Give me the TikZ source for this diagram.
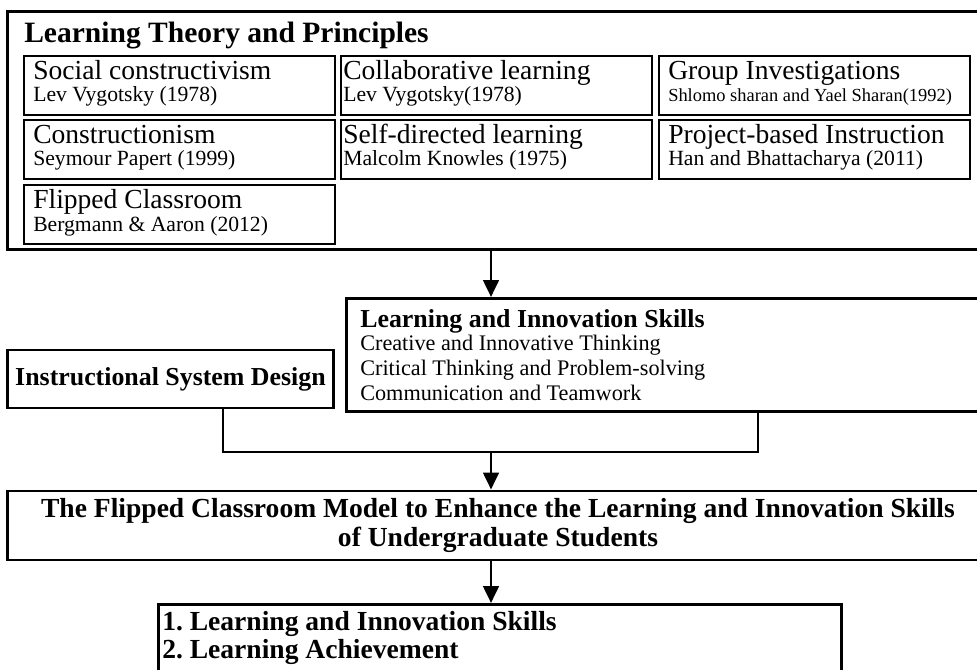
\documentclass[tikz,border=0pt]{standalone}
\usepackage{fontspec}
\setmainfont{Liberation Serif}
\usetikzlibrary{arrows.meta}

\tikzset{
  bigbox/.style={draw, line width=2.1pt, inner sep=0pt},
  thinbox/.style={draw, line width=1.1pt, inner sep=0pt, anchor=north west,
    minimum width=7.775cm, minimum height=1.475cm},
  txt/.style={inner sep=0pt, anchor=base west},
  arrow/.style={line width=2.1pt, -{Triangle[length=12pt,width=11pt]}},
  link/.style={line width=2.1pt}
}

\begin{document}
\frenchspacing
\begin{tikzpicture}[x=0.025cm, y=-0.025cm]
\useasboundingbox (0,0) rectangle (977,669);

% theory block
\node[bigbox, minimum width=24.55cm, minimum height=5.925cm] (theory) at (499,130.5) {};
\node[txt, font=\fontsize{21}{25}\selectfont\bfseries] (theory-title) at (24,43) {Learning Theory and Principles};

\foreach \n/\x/\y/\tx/\main/\sub in {
  social/23/55/33/Social constructivism/Lev Vygotsky (1978),
  collab/340/55/343/Collaborative learning/Lev Vygotsky(1978),
  group/658/55/668/Group Investigations/{\fontsize{13.1}{15}\selectfont Shlomo sharan and Yael Sharan(1992)},
  constr/23/119/33/Constructionism/Seymour Papert (1999),
  selfdir/340/119/343/Self-directed learning/Malcolm Knowles (1975),
  project/658/119/668/Project-based Instruction/Han and Bhattacharya (2011),
  flipped/23/184/33/Flipped Classroom/Bergmann \& Aaron (2012)}
{
  \node[thinbox] (\n) at (\x,\y) {};
  \node[txt, font=\fontsize{19.6}{22}\selectfont] (\n-main) at (\tx,\y+25) {\main};
  \node[txt, font=\fontsize{15.4}{18}\selectfont] (\n-sub) at (\tx,\y+47) {\sub};
}

% design and skills
\node[bigbox, minimum width=8.125cm, minimum height=1.45cm,
  font=\fontsize{18.4}{22}\selectfont\bfseries] (isd) at (170.5,379) {Instructional System Design};
\node[bigbox, anchor=north west, minimum width=16.125cm, minimum height=2.825cm] (lis) at (345,297) {};
\node[txt, font=\fontsize{18.4}{22}\selectfont\bfseries] (lis-title) at (360,327) {Learning and Innovation Skills};
\foreach \t [count=\k] in {Creative and Innovative Thinking, Critical Thinking and Problem-solving, Communication and Teamwork}
  \node[txt, font=\fontsize{15.8}{19}\selectfont] (lis-\k) at (360,325+25*\k) {\t};

% model
\node[bigbox, minimum width=24.5cm, minimum height=1.725cm, align=center,
  font=\fontsize{19.6}{20.6}\selectfont\bfseries] (model) at (498,525.5)
  {The Flipped Classroom Model to Enhance the Learning and Innovation Skills\\of Undergraduate Students};

% outcomes
\node[bigbox, anchor=north west, minimum width=17.075cm, minimum height=2.425cm] (outcome) at (157,603) {};
\node[txt, font=\fontsize{19.6}{22}\selectfont\bfseries] (outcome-1) at (162,630) {1. Learning and Innovation Skills};
\node[txt, font=\fontsize{19.6}{22}\selectfont\bfseries] (outcome-2) at (162,658) {2. Learning Achievement};

% connectors
\coordinate (split) at (491,452);
\coordinate (isd-out) at (223,452);
\coordinate (lis-out) at (758,452);
\draw[link] (isd.south -| isd-out) -- (isd-out) -- (lis-out) -- (lis.south -| lis-out);
\draw[arrow] (theory.south -| split) -- (lis.north -| split);
\draw[arrow] (split) -- (model.north -| split);
\draw[arrow] (model.south -| split) -- (outcome.north -| split);
\end{tikzpicture}
\end{document}
